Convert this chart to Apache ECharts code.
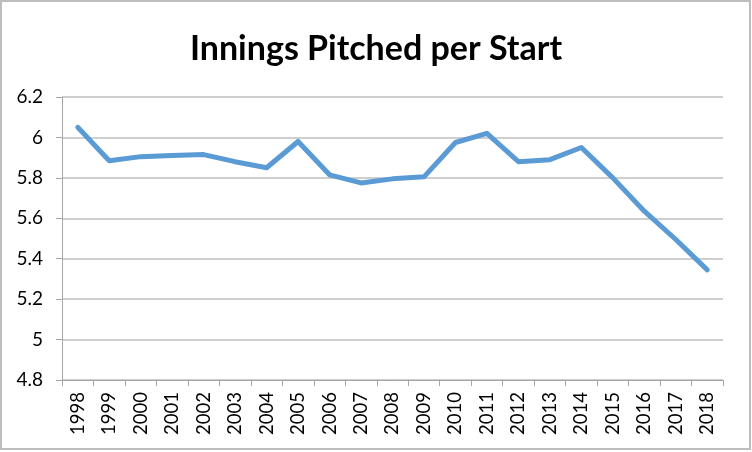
<!DOCTYPE html>
<html>
<head>
    <title>Innings Pitched per Start</title>
    <script src="https://cdn.jsdelivr.net/npm/echarts@6/dist/echarts.min.js"></script>
    <style>
        html,body{
            height:100%;
            width:100%;
            margin:0;
            padding:0;
            background:#fff;
        }
        #chart{
            width:752px;
            height:452px;
        }
    </style>
</head>
<body>
<div id="chart"></div>
<script>
    // season years
    var years = ['1998','1999','2000','2001','2002','2003','2004','2005','2006','2007',
                 '2008','2009','2010','2011','2012','2013','2014','2015','2016','2017','2018'];
    // innings pitched per start
    var ipPerStart = [6.05, 5.885, 5.905, 5.91, 5.915, 5.88, 5.85, 5.98, 5.815, 5.775,
                      5.795, 5.805, 5.975, 6.02, 5.88, 5.89, 5.95, 5.80, 5.635, 5.495, 5.345];

    var myChart = echarts.init(document.getElementById('chart'));

    var option = {
        animation:false,
        title:{
            text:'Innings Pitched per Start',
            left:'center',
            top:18,
            textStyle:{
                fontFamily:'Lato',
                fontWeight:'bold',
                fontSize:34,
                color:'#000'
            }
        },
        graphic:[{
            type:'rect',
            shape:{x:1, y:1, width:749, height:448},
            style:{fill:'none', stroke:'#bdbdbd', lineWidth:2},
            silent:true
        }],
        grid:{
            left:62,
            right:29,
            top:97,
            bottom:72
        },
        xAxis:{
            type:'category',
            data:years,
            boundaryGap:true,
            axisLine:{show:true, lineStyle:{color:'#a6a6a6', width:1}},
            axisTick:{show:true, length:6, lineStyle:{color:'#a6a6a6'}},
            axisLabel:{
                rotate:90,
                margin:12,
                interval:0,
                fontFamily:'Lato',
                fontSize:18.5,
                color:'#000'
            }
        },
        yAxis:{
            type:'value',
            min:4.8,
            max:6.2,
            interval:0.2,
            axisLine:{show:true, lineStyle:{color:'#a6a6a6', width:1}},
            axisTick:{show:true, length:6, lineStyle:{color:'#a6a6a6'}},
            axisLabel:{
                margin:19,
                fontFamily:'Lato',
                fontSize:19,
                color:'#000',
                formatter:function(v){ return String(Math.round(v*10)/10); }
            },
            splitLine:{lineStyle:{color:'#bfbfbf', width:1.5}}
        },
        series:[{
            name:'IP/GS',
            type:'line',
            data:ipPerStart,
            showSymbol:false,
            lineStyle:{color:'#5b9bd5', width:5, cap:'round', join:'round'}
        }]
    };
    myChart.setOption(option);
</script>
</body>
</html>
